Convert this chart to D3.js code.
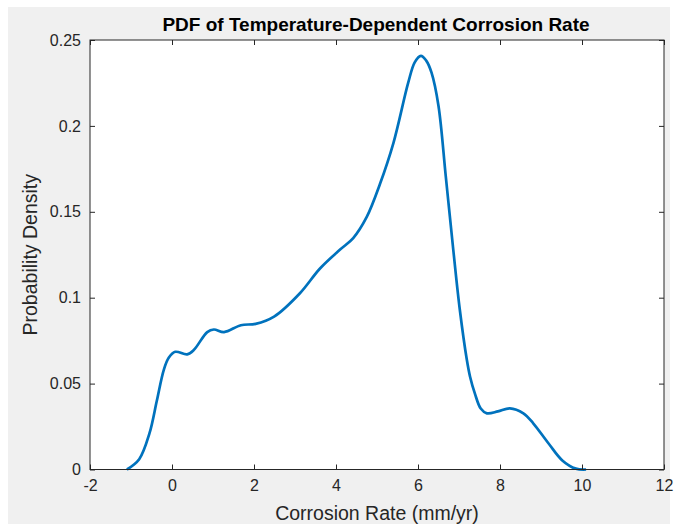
<!DOCTYPE html>
<html>
<head>
<meta charset="utf-8">
<script src="https://cdn.jsdelivr.net/npm/d3@7"></script>
<style>
  body { margin: 0; background: #fff; }
  text { font-family: "Liberation Sans", Arial, Helvetica, sans-serif; fill: #262626; }
</style>
</head>
<body>
<svg id="chart" width="679" height="524"></svg>
<script>
// Density curve
const rateValues = [-1.1, -0.8, -0.55, -0.37, -0.2, -0.08, 0.08, 0.37, 0.53, 0.86, 1.02, 1.27, 1.68, 2.04, 2.49,
  3.12, 3.61, 4.1, 4.42, 4.75, 5.07, 5.4, 5.76, 5.92, 6.07, 6.2, 6.33, 6.5, 6.68, 6.86, 7.02, 7.19, 7.27,
  7.39, 7.53, 7.68, 7.95, 8.24, 8.57, 8.81, 9.19, 9.52, 9.85, 10.1];
const densityValues = [0, 0.006, 0.021, 0.04, 0.058, 0.065, 0.0685, 0.067, 0.0695, 0.08, 0.0815, 0.08, 0.084, 0.0848, 0.089,
  0.1026, 0.117, 0.128, 0.1347, 0.147, 0.166, 0.19, 0.225, 0.237, 0.2408, 0.238, 0.231, 0.2116, 0.17, 0.128, 0.093, 0.064, 0.054,
  0.044, 0.0355, 0.0327, 0.0338, 0.0356, 0.0327, 0.0269, 0.015, 0.0053, 0.0005, 0];
const xTicks = [-2, 0, 2, 4, 6, 8, 10, 12];
const yTicks = [0, 0.05, 0.1, 0.15, 0.2, 0.25];

const svg = d3.select("#chart");
const axLeft = 90, axRight = 664, axTop = 40, axBottom = 469.5;
const tickLen = 5;

// figure background
svg.append("rect").attr("x", 8).attr("y", 7).attr("width", 662).attr("height", 517).attr("fill", "#f0f0f0");
svg.append("rect").attr("x", axLeft).attr("y", axTop).attr("width", axRight - axLeft).attr("height", axBottom - axTop).attr("fill", "#fff");

const x = d3.scaleLinear().domain([-2, 12]).range([axLeft, axRight]);
const y = d3.scaleLinear().domain([0, 0.25]).range([axBottom, axTop]);

const points = rateValues.map((r, i) => ({ r: r, d: densityValues[i] }));

svg.append("path")
  .datum(points)
  .attr("fill", "none")
  .attr("stroke", "#0072bd")
  .attr("stroke-width", 2.7)
  .attr("stroke-linejoin", "round")
  .attr("d", d3.line().x((p) => x(p.r)).y((p) => y(p.d)).curve(d3.curveCatmullRom.alpha(0.5)));

// axes: ticks pointing inward, box on
const axisStyle = (g) => {
  g.select(".domain").remove();
  g.selectAll(".tick line").attr("stroke", "#262626");
  g.selectAll(".tick text").attr("font-size", 16).style("fill", "#262626");
};

svg.append("g").attr("transform", `translate(0,${axBottom})`)
  .call(d3.axisBottom(x).tickValues(xTicks).tickSizeInner(-tickLen).tickSizeOuter(0).tickPadding(10).tickFormat((d) => String(d)))
  .call(axisStyle);
svg.append("g").attr("transform", `translate(0,${axTop})`)
  .call(d3.axisTop(x).tickValues(xTicks).tickSizeInner(-tickLen).tickSizeOuter(0).tickFormat(""))
  .call(axisStyle);
svg.append("g").attr("transform", `translate(${axLeft},0)`)
  .call(d3.axisLeft(y).tickValues(yTicks).tickSizeInner(-tickLen).tickSizeOuter(0).tickPadding(9).tickFormat((d) => String(+d.toFixed(2))))
  .call(axisStyle);
svg.append("g").attr("transform", `translate(${axRight},0)`)
  .call(d3.axisRight(y).tickValues(yTicks).tickSizeInner(-tickLen).tickSizeOuter(0).tickFormat(""))
  .call(axisStyle);

svg.append("rect").attr("x", axLeft).attr("y", axTop).attr("width", axRight - axLeft).attr("height", axBottom - axTop)
  .attr("fill", "none").attr("stroke", "#262626").attr("stroke-width", 1);

svg.append("text").attr("x", (axLeft + axRight) / 2 - 1).attr("y", 31).attr("text-anchor", "middle")
  .attr("font-size", 19).attr("font-weight", "bold").style("fill", "#000")
  .text("PDF of Temperature-Dependent Corrosion Rate");

svg.append("text").attr("x", (axLeft + axRight) / 2).attr("y", 520).attr("text-anchor", "middle")
  .attr("font-size", 19.5).text("Corrosion Rate (mm/yr)");

svg.append("text").attr("transform", `translate(37,${(axTop + axBottom) / 2}) rotate(-90)`).attr("text-anchor", "middle")
  .attr("font-size", 19.5).text("Probability Density");
</script>
</body>
</html>
